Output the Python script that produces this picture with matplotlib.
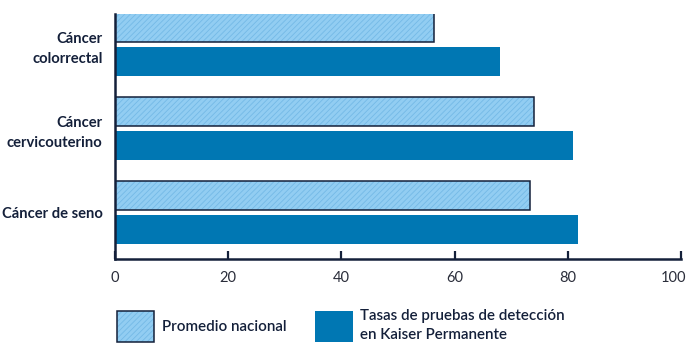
import numpy as np
import matplotlib
matplotlib.use("Agg")
import matplotlib.pyplot as plt
from matplotlib.patches import Patch
from matplotlib.legend_handler import HandlerTuple
from matplotlib.transforms import offset_copy

# datos
categorias = ["Cáncer\ncolorrectal", "Cáncer\ncervicouterino", "Cáncer de seno"]
promedio_nacional = [56.4, 74.0, 73.3]
kaiser = [68.0, 80.9, 81.8]
xticks = [0, 20, 40, 60, 80, 100]
etiquetas_leyenda = ["Promedio nacional", "Tasas de pruebas de detección\nen Kaiser Permanente"]

NAVY = "#14203a"
AZUL = "#0077b3"
CELESTE = "#92cdf2"
HATCH = "#74b9e6"

plt.rcParams["font.family"] = ["Lato", "DejaVu Sans"]
plt.rcParams["hatch.linewidth"] = 0.6

fig = plt.figure(figsize=(6.9, 3.56), dpi=100)
ax = fig.add_axes([115 / 690, 1 - 259 / 356, 566 / 690, 245 / 356])

y = np.arange(len(categorias))
off = 17 / 84
h = 29 / 84

# barras del promedio nacional: relleno con rayado + borde
ax.barh(y - off, promedio_nacional, height=h, color=CELESTE, edgecolor=HATCH,
        hatch="//////", linewidth=0)
ax.barh(y - off, promedio_nacional, height=h, fill=False, edgecolor=NAVY,
        linewidth=1.1)
ax.barh(y + off, kaiser, height=h, color=AZUL, linewidth=0)

ax.set_xlim(0, 100)
ax.set_ylim(2 + 46.5 / 84, -30.75 / 84)
ax.set_xticks(xticks)
ax.set_xticklabels([str(t) for t in xticks])
ax.set_yticks(y)
ax.set_yticklabels(categorias, fontweight="bold", fontsize=10.6, color=NAVY,
                   linespacing=1.55)
ax.tick_params(axis="y", length=0, pad=9)
ax.tick_params(axis="x", direction="in", length=6, width=1.6, color=NAVY,
               labelsize=10.5, labelcolor="#2a2d3a", pad=8.5)

# la etiqueta "100" queda un poco a la izquierda para caber en la imagen
ultima = ax.get_xticklabels()[-1]
ultima.set_transform(offset_copy(ultima.get_transform(), fig=fig, x=-7, units="dots"))

for s in ["top", "right"]:
    ax.spines[s].set_visible(False)
for s in ["left", "bottom"]:
    ax.spines[s].set_color(NAVY)
    ax.spines[s].set_linewidth(1.8)

# leyenda
h1 = (Patch(facecolor=CELESTE, edgecolor=HATCH, hatch="//////", linewidth=0),
      Patch(fill=False, edgecolor=NAVY, linewidth=1.1))
h2 = Patch(facecolor=AZUL, linewidth=0)
leg = fig.legend([h1, h2], etiquetas_leyenda, loc="upper left",
                 bbox_to_anchor=(103 / 690, 1 - 295 / 356), ncol=2,
                 frameon=False, handlelength=2.5, handleheight=2.75,
                 handletextpad=0.5, columnspacing=1.85,
                 handler_map={tuple: HandlerTuple(ndivide=1)},
                 prop={"size": 10.9, "weight": "semibold"})
for t in leg.get_texts():
    t.set_color(NAVY)
    t.set_linespacing(1.5)

fig.savefig("out.png", dpi=100)
